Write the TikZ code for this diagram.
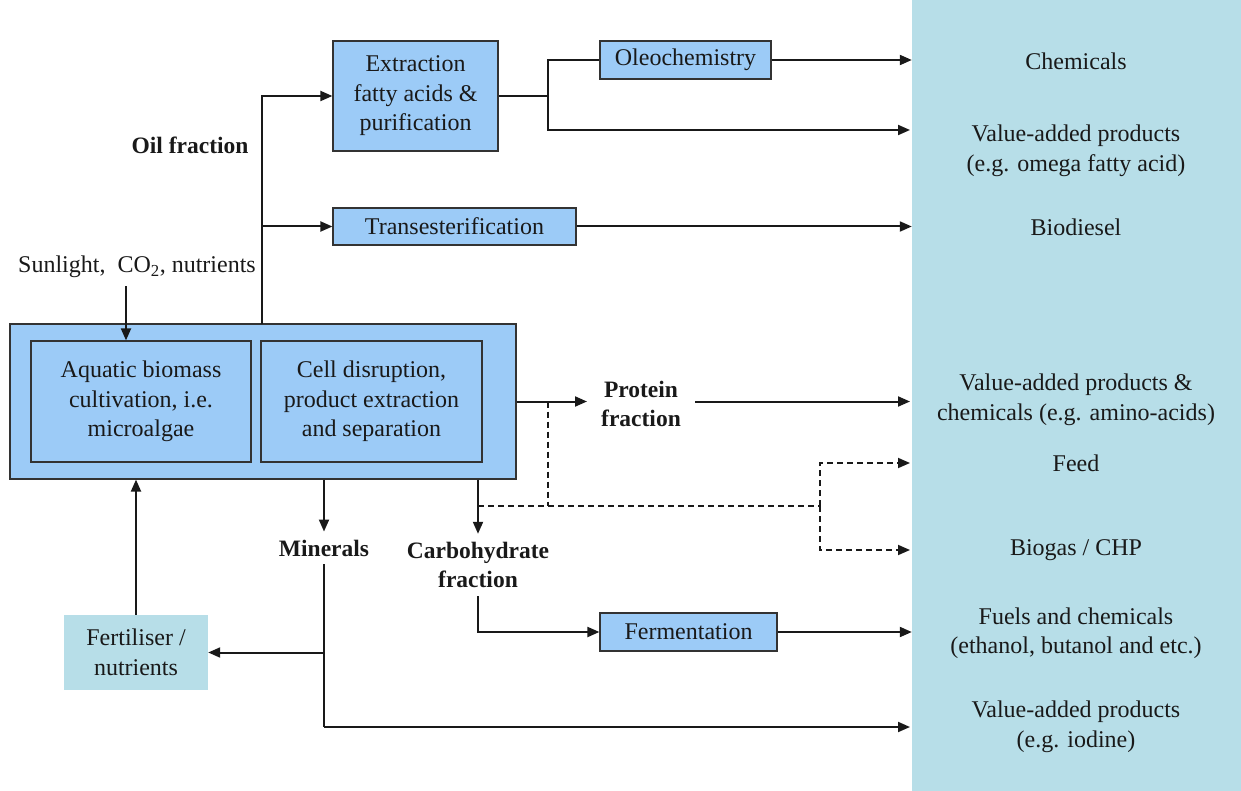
\documentclass[tikz,border=0pt]{standalone}
\usepackage{fontspec}
\setmainfont{LiberationSerif}[Extension=.ttf, UprightFont=*-Regular, BoldFont=*-Bold, ItalicFont=*-Italic, BoldItalicFont=*-BoldItalic]
\usetikzlibrary{arrows.meta}
\definecolor{boxblue}{HTML}{9CCBF7}
\definecolor{panelblue}{HTML}{B7DEE8}
\begin{document}
\begin{tikzpicture}[x=1pt,y=-1pt,
  every node/.style={font=\fontsize{24}{29.5}\selectfont, align=center, inner sep=0pt, text=black!90},
  proc/.style={draw=black!80, fill=boxblue, line width=1.2pt},
  lbl/.style={font=\fontsize{23.5}{29.5}\selectfont\bfseries, inner ysep=8pt, inner xsep=14pt},
  ln/.style={line width=2pt, draw=black!90},
  arr/.style={ln, -{Triangle[length=12pt,width=10pt]}},
  dsh/.style={line width=1.8pt, draw=black!90, dash pattern=on 6pt off 4pt},
  darr/.style={dsh, -{Triangle[length=12pt,width=10pt]}}]
\useasboundingbox (0,0) rectangle (1241,791);
% right panel
\node[fill=panelblue, minimum width=329pt, minimum height=791pt] (panel) at (1076.5,395.5) {};
% process boxes
\node[proc, minimum width=165pt, minimum height=110pt] (ext) at (415.5,96) {Extraction\\fatty acids \&\\purification};
\node[proc, minimum width=171pt, minimum height=38pt] (oleo) at (685.5,60) {Oleochemistry};
\node[proc, minimum width=243pt, minimum height=37pt] (trans) at (454.5,226.5) {Transesterification};
\node[proc, minimum width=506pt, minimum height=155pt] (outer) at (263,401.5) {};
\node[proc, minimum width=220pt, minimum height=121pt] (inA) at (141,401.5) {Aquatic biomass\\cultivation, i.e.\\microalgae};
\node[proc, minimum width=221pt, minimum height=121pt] (inB) at (371.5,401.5) {Cell disruption,\\product extraction\\and separation};
\node[proc, minimum width=177pt, minimum height=38pt] (ferm) at (688.5,632) {Fermentation};
\node[fill=panelblue, minimum width=144pt, minimum height=75pt] (fert) at (136,652.5) {Fertiliser /\\nutrients};
% labels
\node[lbl] (oil) at (190,145) {Oil fraction};
\node (sun) at (137,267) {Sunlight,\ \ CO\textsubscript{2}, nutrients};
\node[lbl] (prot) at (641,404) {Protein\\fraction};
\node[lbl] (min) at (324,548) {Minerals};
\node[lbl] (carb) at (478,565) {Carbohydrate\\fraction};
% outputs
\node (o1) at (1076,61) {Chemicals};
\node (o2) at (1076,151) {Value-added products\\(e.g. omega fatty acid)};
\node (o3) at (1076,227) {Biodiesel};
\node (o4) at (1076,400) {Value-added products \&\\chemicals (e.g. amino-acids)};
\node (o5) at (1076,463) {Feed};
\node (o6) at (1076,550) {Biogas / CHP};
\node (o7) at (1076,633) {Fuels and chemicals\\(ethanol, butanol and etc.)};
\node (o8) at (1076,727) {Value-added products\\(e.g. iodine)};
% arrow targets on panel edge
\coordinate (t2) at (910,130);
\coordinate (t4) at (910,401.5);
\coordinate (t5) at (910,463);
\coordinate (t6) at (910,550);
\coordinate (t8) at (910,727);
% junctions
\coordinate (oj) at (262,324);
\coordinate (ej) at (548,96);
\coordinate (d1) at (548,401.5);
\coordinate (d2) at (548,506);
\coordinate (cx) at (478,506);
\coordinate (fj) at (820,506);
\coordinate (mb) at (324,727);
% oil branch
\draw[arr] (oj) |- (ext.west);
\draw[arr] (oj |- trans.west) -- (trans.west);
\draw[ln] (ext.east) -- (ej);
\draw[ln] (ej) |- (oleo.west);
\draw[arr] (ej) |- (t2);
\draw[arr] (oleo.east) -- (oleo.east -| panel.west);
\draw[arr] (trans.east) -- (trans.east -| panel.west);
% inputs
\draw[arr] ([xshift=-11pt,yshift=-8pt]sun.south) -- ([xshift=-11pt]sun.south |- inA.north);
\draw[arr] (fert.north) -- (fert.north |- outer.south);
% protein
\draw[arr] (outer.east) -- (outer.east -| prot.west);
\draw[arr] (outer.east -| prot.east) -- (t4);
% dashed feed / biogas
\draw[dsh] (d1) -- (d2);
\draw[dsh] (cx) -- (fj);
\draw[darr] (fj) |- (t5);
\draw[darr] (fj) |- (t6);
% carbohydrate
\draw[arr] (outer.south -| carb.north) -- (carb.north);
\draw[arr] (carb.south) |- (ferm.west);
\draw[arr] (ferm.east) -- (ferm.east -| panel.west);
% minerals
\draw[arr] (outer.south -| min.north) -- (min.north);
\draw[ln] (min.south) -- (mb);
\draw[arr] (mb) -- (t8);
\draw[arr] (min.south |- fert.east) -- (fert.east);
\end{tikzpicture}
\end{document}
